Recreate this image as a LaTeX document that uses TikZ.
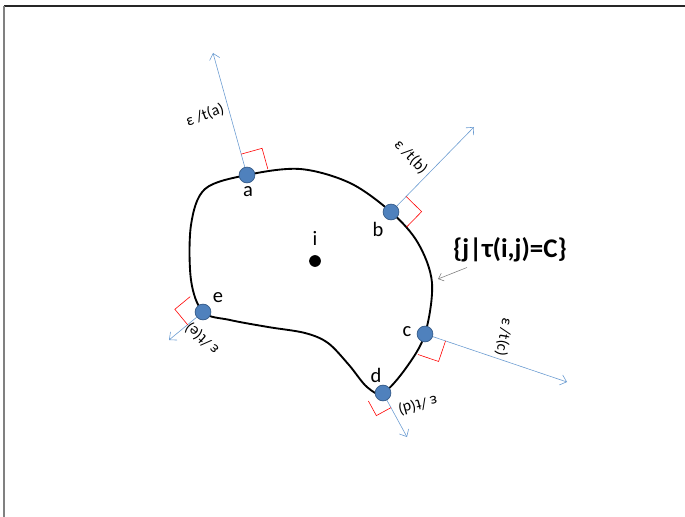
\documentclass[tikz,border=0pt]{standalone}
\usepackage{fontspec}
\setmainfont{Carlito}
\usepackage{tikz}
\usetikzlibrary{arrows.meta,calc,backgrounds}
\definecolor{ptblue}{HTML}{4F81BD}
\definecolor{ptedge}{HTML}{385D8A}
\definecolor{nrmblue}{HTML}{6A9BD1}
\tikzset{
pt/.style={circle,fill=ptblue,draw=ptedge,line width=0.6pt,inner sep=0pt,minimum size=13.5pt},
lbl/.style={font=\fontsize{17.5}{20}\selectfont,inner sep=0pt},
eps/.style={font=\fontsize{13.5}{15}\selectfont,inner sep=0pt},
nrm/.style={nrmblue,line width=0.5pt,-{Straight Barb[length=5pt,width=9pt]}},
rmark/.style={red,line width=0.5pt},
contour/.style={black,line width=1.6pt},
ptr/.style={gray,line width=0.5pt,-{Straight Barb[length=4pt,width=7pt]}}
}
\begin{document}
\begin{tikzpicture}[x=0.03cm,y=-0.03cm]
\useasboundingbox(0,0)rectangle(685,517);
\draw[black!85,line width=1.3pt](4,6)--(685,6);
\draw[gray,line width=1pt](4,6)--(4,517);
% points on the contour
\node[pt](a)at(247,175){};
\node[pt](b)at(391,212){};
\node[pt](c)at(425,334){};
\node[pt](d)at(383,393){};
\node[pt](e)at(203,312){};
\node[circle,fill=black,inner sep=0pt,minimum size=10pt](i)at(315,261){};
\node[lbl](la)at(248,192){a};
\node[lbl](lb)at(378,229){b};
\node[lbl](lc)at(407,332){c};
\node[lbl](ld)at(376,375){d};
\node[lbl](le)at(218,298){e};
\node[lbl](li)at(315,238){i};
% arrow tips of the normals
\coordinate(ta)at(213,53);
\coordinate(tb)at(474,127);
\coordinate(tc)at(567,382);
\coordinate(td)at(407,437);
\coordinate(te)at(169,340);
\node[eps,rotate=20](ea)at(205,115){ε /t(a)};
\node[eps,rotate=-46](eb)at(411,157){ε /t(b)};
\node[eps,rotate=-100](ec)at(504,337){ε /t(c)};
\node[eps,rotate=195](ed)at(418,405){ε /t(d)};
\node[eps,rotate=138](ee)at(202,339){ε /t(e)};
\node[font=\fontsize{23}{27}\selectfont\bfseries,inner sep=0pt](set)at(510,250){\{j|τ(i,j)=C\}};
\coordinate(tip)at(438,279);
\begin{scope}[on background layer]
\draw[contour]plot[smooth cycle,tension=0.55]coordinates{(247,175)(300,169)(350,183)(391,212)(418,243)(432,283)(425,334)(406,368)(383,393)(367,387)(349,365)(328,343)(305,333)(268,327)(230,320)(203,312)(191,280)(191,225)(205,189)};
\foreach \p in {a,...,e}
\draw[nrm](\p)--(t\p);
\foreach \p/\s in {a/0.65cm,b/0.65cm,c/0.65cm,d/0.5cm,e/0.6cm}
\draw[rmark]($(\p)!\s!(t\p)$)--($(\p)!\s!(t\p)!\s!90:(\p)$)--($(\p)!\s!-90:(t\p)$);
\end{scope}
\draw[ptr]([shift={(14,5)}]set.south west)--(tip);
\end{tikzpicture}
\end{document}
